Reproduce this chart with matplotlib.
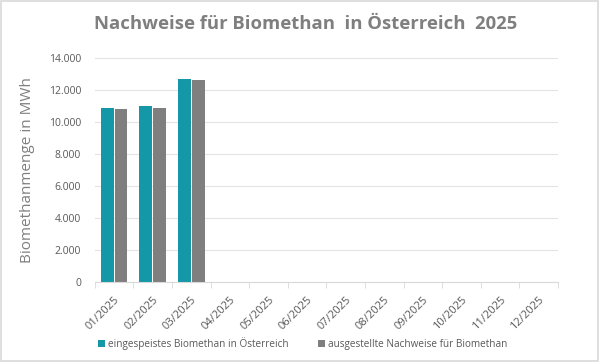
import matplotlib
matplotlib.use('Agg')
import matplotlib.pyplot as plt
from matplotlib.patches import Rectangle
import numpy as np

# monthly data, only first quarter available so far
months = ['01/2025', '02/2025', '03/2025', '04/2025', '05/2025', '06/2025',
          '07/2025', '08/2025', '09/2025', '10/2025', '11/2025', '12/2025']
eingespeist = [10900, 11000, 12700]
nachweise = [10800, 10900, 12600]

teal = '#1497A6'
grey = '#7F7F7F'
txt = '#595959'

plt.rcParams['font.family'] = ['Open Sans', 'DejaVu Sans']

fig = plt.figure(figsize=(6, 3.62), dpi=100)
ax = fig.add_axes([0.158, 0.221, 0.772, 0.619])

x = np.arange(len(months))
w = 0.33
ax.bar(x[:len(eingespeist)] - 0.18, eingespeist, w, color=teal,
       label='eingespeistes Biomethan in Österreich')
ax.bar(x[:len(nachweise)] + 0.18, nachweise, w, color=grey,
       label='ausgestellte Nachweise für Biomethan')

ax.set_xlim(-0.5, len(months) - 0.5)
ax.set_ylim(0, 14000)
yt = np.arange(0, 14001, 2000)
ax.set_yticks(yt)
ax.set_yticklabels(['{:,}'.format(v).replace(',', '.') for v in yt], fontsize=7.5, color=txt)
ax.set_xticks(x)
ax.set_xticklabels(months, rotation=45, ha='right', rotation_mode='anchor', fontsize=8, color=txt)
ax.set_xticks(np.arange(-0.5, len(months)), minor=True)
ax.tick_params(axis='x', which='major', length=0, pad=9)
ax.tick_params(axis='x', which='minor', length=4, color='#D9D9D9')
ax.tick_params(axis='y', length=0, pad=10)

ax.grid(axis='y', color='#E3E3E3', linewidth=0.8)
ax.set_axisbelow(True)
for s in ['top', 'right', 'left']:
    ax.spines[s].set_visible(False)
ax.spines['bottom'].set_color('#D9D9D9')

ax.set_ylabel('Biomethanmenge in MWh', fontsize=11, color=grey, labelpad=10)
fig.text(0.51, 0.935, 'Nachweise für Biomethan  in Österreich  2025', ha='center', va='center',
         fontsize=13.3, fontweight='bold', color=grey)

fig.legend(loc='center left', bbox_to_anchor=(0.163, 0.05), ncol=2, frameon=False,
           fontsize=7.2, handlelength=0.7, handleheight=0.7, handletextpad=0.3,
           columnspacing=3.0, labelcolor=txt, borderaxespad=0, borderpad=0)

fig.patches.append(Rectangle((0.002, 0.003), 0.995, 0.993, transform=fig.transFigure,
                             fill=False, edgecolor='#D9D9D9', linewidth=1.2))

fig.savefig('out.png', dpi=100)
